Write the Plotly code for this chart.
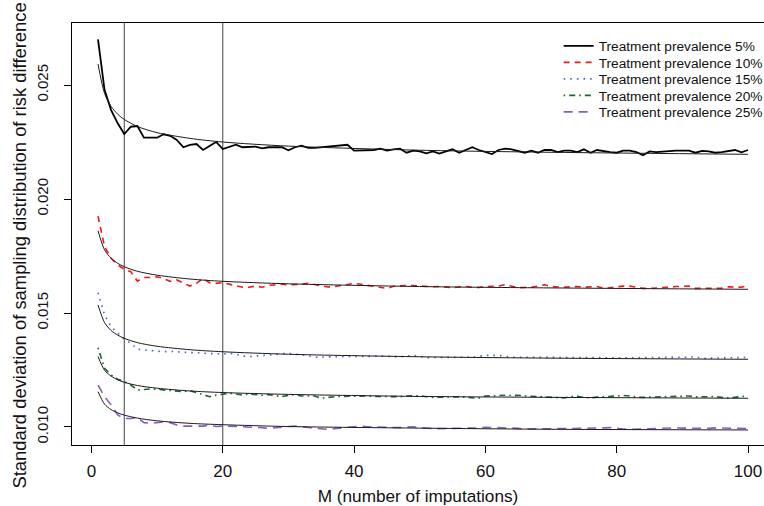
import plotly.graph_objects as go

M = list(range(1, 101))

sd_5 = [
    0.02700, 0.02478, 0.02390, 0.02332, 0.02285, 0.02317, 0.02320, 0.02269, 0.02269, 0.02269,
    0.02284, 0.02277, 0.02259, 0.02227, 0.02237, 0.02241, 0.02215, 0.02232, 0.02250, 0.02219,
    0.02227, 0.02238, 0.02227, 0.02227, 0.02230, 0.02222, 0.02227, 0.02227, 0.02227, 0.02214,
    0.02227, 0.02234, 0.02224, 0.02224, 0.02227, 0.02230, 0.02234, 0.02236, 0.02238, 0.02212,
    0.02212, 0.02215, 0.02215, 0.02221, 0.02212, 0.02218, 0.02221, 0.02203, 0.02212, 0.02209,
    0.02200, 0.02209, 0.02199, 0.02209, 0.02218, 0.02203, 0.02215, 0.02227, 0.02215, 0.02206,
    0.02197, 0.02215, 0.02221, 0.02218, 0.02212, 0.02203, 0.02212, 0.02203, 0.02215, 0.02215,
    0.02206, 0.02212, 0.02212, 0.02206, 0.02218, 0.02203, 0.02215, 0.02209, 0.02206, 0.02203,
    0.02212, 0.02212, 0.02206, 0.02192, 0.02209, 0.02206, 0.02209, 0.02211, 0.02212, 0.02212,
    0.02212, 0.02203, 0.02211, 0.02209, 0.02203, 0.02206, 0.02211, 0.02215, 0.02205, 0.02215,
]
sd_10 = [
    0.01925, 0.01791, 0.01740, 0.01711, 0.01692, 0.01681, 0.01640, 0.01656, 0.01656, 0.01659,
    0.01651, 0.01639, 0.01645, 0.01633, 0.01618, 0.01630, 0.01651, 0.01633, 0.01630, 0.01633,
    0.01627, 0.01618, 0.01613, 0.01613, 0.01618, 0.01613, 0.01621, 0.01624, 0.01627, 0.01623,
    0.01624, 0.01627, 0.01630, 0.01624, 0.01618, 0.01614, 0.01616, 0.01621, 0.01627, 0.01630,
    0.01626, 0.01621, 0.01618, 0.01613, 0.01608, 0.01617, 0.01620, 0.01621, 0.01620, 0.01618,
    0.01616, 0.01615, 0.01616, 0.01613, 0.01611, 0.01614, 0.01616, 0.01613, 0.01612, 0.01616,
    0.01617, 0.01618, 0.01624, 0.01618, 0.01611, 0.01612, 0.01613, 0.01618, 0.01624, 0.01616,
    0.01613, 0.01613, 0.01615, 0.01616, 0.01613, 0.01614, 0.01616, 0.01608, 0.01612, 0.01617,
    0.01618, 0.01618, 0.01613, 0.01608, 0.01608, 0.01609, 0.01612, 0.01613, 0.01616, 0.01617,
    0.01618, 0.01608, 0.01609, 0.01610, 0.01610, 0.01609, 0.01615, 0.01614, 0.01613, 0.01621,
]
sd_15 = [
    0.01589, 0.01491, 0.01440, 0.01414, 0.01385, 0.01367, 0.01341, 0.01338, 0.01335, 0.01330,
    0.01330, 0.01332, 0.01329, 0.01327, 0.01326, 0.01326, 0.01323, 0.01322, 0.01322, 0.01319,
    0.01323, 0.01320, 0.01311, 0.01309, 0.01311, 0.01314, 0.01314, 0.01319, 0.01320, 0.01323,
    0.01319, 0.01317, 0.01313, 0.01306, 0.01307, 0.01308, 0.01309, 0.01310, 0.01311, 0.01310,
    0.01309, 0.01308, 0.01310, 0.01311, 0.01309, 0.01308, 0.01308, 0.01311, 0.01314, 0.01310,
    0.01304, 0.01305, 0.01305, 0.01306, 0.01307, 0.01308, 0.01307, 0.01306, 0.01310, 0.01314,
    0.01314, 0.01314, 0.01310, 0.01306, 0.01306, 0.01306, 0.01306, 0.01305, 0.01306, 0.01306,
    0.01307, 0.01307, 0.01306, 0.01305, 0.01306, 0.01305, 0.01306, 0.01304, 0.01303, 0.01303,
    0.01303, 0.01304, 0.01305, 0.01306, 0.01306, 0.01304, 0.01303, 0.01303, 0.01303, 0.01303,
    0.01306, 0.01309, 0.01300, 0.01302, 0.01303, 0.01303, 0.01304, 0.01304, 0.01304, 0.01305,
]
sd_20 = [
    0.01348, 0.01257, 0.01228, 0.01209, 0.01199, 0.01184, 0.01162, 0.01165, 0.01167, 0.01165,
    0.01162, 0.01159, 0.01155, 0.01155, 0.01159, 0.01151, 0.01140, 0.01133, 0.01140, 0.01145,
    0.01148, 0.01145, 0.01140, 0.01145, 0.01142, 0.01139, 0.01142, 0.01139, 0.01133, 0.01139,
    0.01142, 0.01136, 0.01136, 0.01136, 0.01126, 0.01131, 0.01133, 0.01134, 0.01135, 0.01136,
    0.01137, 0.01136, 0.01134, 0.01133, 0.01132, 0.01133, 0.01133, 0.01136, 0.01138, 0.01137,
    0.01133, 0.01130, 0.01131, 0.01132, 0.01131, 0.01132, 0.01130, 0.01128, 0.01126, 0.01136,
    0.01138, 0.01139, 0.01139, 0.01138, 0.01139, 0.01136, 0.01133, 0.01133, 0.01132, 0.01131,
    0.01129, 0.01127, 0.01133, 0.01135, 0.01130, 0.01128, 0.01131, 0.01133, 0.01135, 0.01136,
    0.01138, 0.01136, 0.01131, 0.01130, 0.01131, 0.01130, 0.01130, 0.01131, 0.01133, 0.01134,
    0.01136, 0.01132, 0.01131, 0.01133, 0.01133, 0.01131, 0.01127, 0.01130, 0.01133, 0.01137,
]
sd_25 = [
    0.01184, 0.01133, 0.01097, 0.01053, 0.01037, 0.01037, 0.01042, 0.01019, 0.01016, 0.01019,
    0.01022, 0.01019, 0.01009, 0.01004, 0.01004, 0.01004, 0.01004, 0.01009, 0.01002, 0.01004,
    0.01004, 0.01004, 0.01002, 0.00999, 0.00999, 0.00997, 0.00994, 0.00997, 0.01002, 0.01002,
    0.01004, 0.01002, 0.00998, 0.00994, 0.00991, 0.00990, 0.00993, 0.00996, 0.00999, 0.01002,
    0.01004, 0.01001, 0.01000, 0.00999, 0.01000, 0.00998, 0.00997, 0.00999, 0.01001, 0.00997,
    0.00994, 0.00993, 0.00993, 0.00993, 0.00994, 0.00995, 0.00994, 0.00994, 0.00996, 0.00999,
    0.00998, 0.00997, 0.00997, 0.00997, 0.00994, 0.00991, 0.00992, 0.00993, 0.00993, 0.00993,
    0.00993, 0.00993, 0.00993, 0.00993, 0.00993, 0.00994, 0.00995, 0.00996, 0.00997, 0.00993,
    0.00991, 0.00990, 0.00991, 0.00993, 0.00994, 0.00993, 0.00995, 0.00997, 0.00996, 0.00995,
    0.00994, 0.00993, 0.00993, 0.00994, 0.00996, 0.00995, 0.00994, 0.00993, 0.00993, 0.00993,
]

# fitted curves, read at selected M
M_fit = [1, 2, 3, 4, 5, 7, 10, 15, 20, 30, 50, 70, 100]
fit_5 = [0.02592, 0.02463, 0.02406, 0.02372, 0.02349, 0.02318, 0.02291, 0.02266, 0.02250, 0.02232, 0.02214, 0.02205, 0.02196]
fit_10 = [0.01861, 0.01777, 0.01740, 0.01718, 0.01703, 0.01683, 0.01666, 0.01649, 0.01639, 0.01628, 0.01616, 0.01610, 0.01604]
fit_15 = [0.01535, 0.01458, 0.01423, 0.01403, 0.01389, 0.01370, 0.01354, 0.01339, 0.01330, 0.01319, 0.01308, 0.01302, 0.01297]
fit_20 = [0.01309, 0.01249, 0.01223, 0.01207, 0.01196, 0.01182, 0.01170, 0.01158, 0.01151, 0.01143, 0.01134, 0.01130, 0.01126]
fit_25 = [0.01155, 0.01100, 0.01076, 0.01062, 0.01052, 0.01039, 0.01027, 0.01016, 0.01010, 0.01002, 0.00995, 0.00990, 0.00987]

labels = ["Treatment prevalence 5%", "Treatment prevalence 10%", "Treatment prevalence 15%",
          "Treatment prevalence 20%", "Treatment prevalence 25%"]
reference_M = [5, 20]
y_ticks = [0.010, 0.015, 0.020, 0.025]
x_ticks = [0, 20, 40, 60, 80, 100]

series = [sd_5, sd_10, sd_15, sd_20, sd_25]
fits = [fit_5, fit_10, fit_15, fit_20, fit_25]
colors = ["#000000", "#F01818", "#4A68CC", "#1E6630", "#8A5CC0"]
dashes = ["solid", "6px,5px", "1.6px,5px", "1.6px,4px,6px,4px", "9px,6px"]
widths = [1.8, 1.6, 1.6, 1.6, 1.6]

FONT = "Liberation Sans, Arial, Helvetica, sans-serif"

# plot area in pixels (for placing legend/labels in paper coordinates)
PL, PR, PT, PB = 71.5, 764.0, 23.0, 445.0
def px_x(p):
    return (p - PL) / (PR - PL)
def px_y(p):
    return (PB - p) / (PB - PT)

fig = go.Figure()

y_lo, y_hi = 0.00921, 0.02772
for xm in reference_M:
    fig.add_trace(go.Scatter(x=[xm, xm], y=[y_lo, y_hi], mode="lines",
                             line=dict(color="#555555", width=1.1), showlegend=False,
                             hoverinfo="skip"))

legend_names = ["legend", "legend2", "legend3", "legend4", "legend5"]
for s, lab, c, d, w, lg in zip(series, labels, colors, dashes, widths, legend_names):
    fig.add_trace(go.Scatter(x=M, y=s, mode="lines", name=lab, legend=lg,
                             line=dict(color=c, dash=d, width=w)))

for f in fits:
    fig.add_trace(go.Scatter(x=M_fit, y=f, mode="lines", showlegend=False,
                             line=dict(color="#1a1a1a", width=1, shape="spline", smoothing=0.8)))

legend_centers = [46, 62.5, 79, 95.5, 112]
legend_layout = {}
for lg, cy in zip(legend_names, legend_centers):
    legend_layout[lg] = dict(x=px_x(558.5), y=px_y(cy), xanchor="left", yanchor="middle",
                             bgcolor="rgba(0,0,0,0)",
                             font=dict(size=13.7, family=FONT, color="#111111"),
                             itemwidth=30)

fig.update_layout(
    width=764, height=506,
    margin=dict(l=PL, r=0, t=PT, b=506 - PB, autoexpand=False),
    paper_bgcolor="white", plot_bgcolor="white",
    font=dict(family=FONT, size=17, color="#111111"),
    xaxis=dict(range=[-2.96, 102.43], showgrid=False, zeroline=False, automargin=False,
               showline=True, linecolor="black", linewidth=1, mirror=True,
               ticks="outside", ticklen=7, tickcolor="black", tickvals=x_ticks,
               ticklabelstandoff=4, tickfont=dict(size=17),
               title=dict(text="M (number of imputations)", standoff=10,
                          font=dict(size=17.2))),
    yaxis=dict(range=[y_lo, y_hi], showgrid=False, zeroline=False, automargin=False,
               showline=True, linecolor="black", linewidth=1,
               ticks="outside", ticklen=7, tickcolor="black", tickvals=y_ticks,
               tickformat=".3f", tickangle=-90, ticklabelstandoff=10,
               tickfont=dict(size=15)),
    annotations=[dict(text="Standard deviation of sampling distribution of risk difference",
                      xref="paper", yref="paper", x=px_x(18), y=px_y(246),
                      xanchor="center", yanchor="middle", textangle=-90, showarrow=False,
                      font=dict(size=18.4, family=FONT, color="#111111"))],
    **legend_layout,
)

fig.write_html("out.html")
